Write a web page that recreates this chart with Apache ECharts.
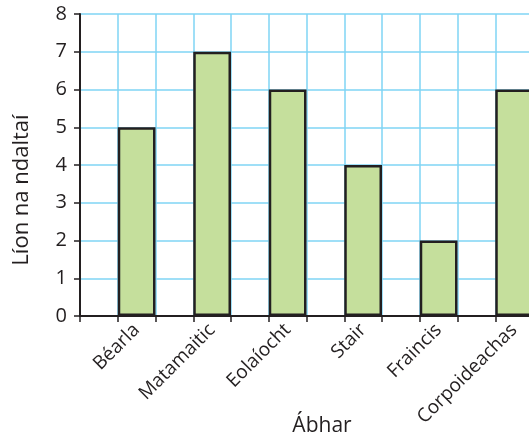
<!DOCTYPE html>
<html>
<head>
<meta charset="utf-8">
<script src="https://cdn.jsdelivr.net/npm/echarts@6/dist/echarts.min.js"></script>
<style>
  html, body { margin: 0; padding: 0; background: #fff; }
  #chart { width: 529px; height: 438px; }
</style>
</head>
<body>
<div id="chart"></div>
<script>
// Subjects and number of pupils per subject
const subjects = ['Béarla', 'Matamaitic', 'Eolaíocht', 'Stair', 'Fraincis', 'Corpoideachas'];
const pupils = [5, 7, 6, 4, 2, 6];
const yTicks = [0, 1, 2, 3, 4, 5, 6, 7, 8];

// Each subject gets an empty column before it, so bars sit on every other grid cell
const axisCats = [];
const barData = [];
subjects.forEach((s, i) => {
  axisCats.push('');
  barData.push(null);
  axisCats.push(s);
  barData.push(pupils[i]);
});

const textColor = '#231f20';
const gridBlue = '#7fd4f4';
const font = 'Open Sans';

const chart = echarts.init(document.getElementById('chart'), null, { renderer: 'canvas' });
chart.setOption({
  animation: false,
  grid: { left: 80, top: 14, bottom: 122, right: -4, containLabel: false, outerBoundsMode: 'none' },
  xAxis: {
    type: 'category',
    data: axisCats,
    boundaryGap: true,
    name: 'Ábhar',
    nameLocation: 'middle',
    nameGap: 100,
    nameMoveOverlap: false,
    nameTextStyle: { color: textColor, fontSize: 21, fontFamily: font, padding: [0, 0, 0, 31] },
    axisLine: { show: true, lineStyle: { color: textColor, width: 2 } },
    axisTick: { show: true, interval: 0, length: 6, lineStyle: { color: textColor, width: 1.5 } },
    axisLabel: {
      interval: 0, rotate: 45, margin: 11,
      color: textColor, fontSize: 19, fontFamily: font
    },
    splitLine: { show: true, interval: 0, lineStyle: { color: gridBlue, width: 1.5 } }
  },
  yAxis: {
    type: 'value',
    min: yTicks[0],
    max: yTicks[yTicks.length - 1],
    interval: 1,
    name: 'Líon na ndaltaí',
    nameLocation: 'middle',
    nameGap: 47,
    nameMoveOverlap: false,
    nameTextStyle: { color: textColor, fontSize: 22, fontFamily: font, padding: [0, 50, 0, 0] },
    axisLine: { show: true, lineStyle: { color: textColor, width: 2 } },
    axisTick: { show: true, length: 6, lineStyle: { color: textColor, width: 1.5 } },
    axisLabel: { color: textColor, fontSize: 20, fontFamily: font, margin: 13 },
    splitLine: { show: true, lineStyle: { color: gridBlue, width: 1.5 } }
  },
  series: [{
    type: 'bar',
    data: barData,
    barWidth: '100%',
    itemStyle: { color: '#c5df9c', borderColor: '#231f20', borderWidth: 2.5 }
  }]
});
</script>
</body>
</html>
